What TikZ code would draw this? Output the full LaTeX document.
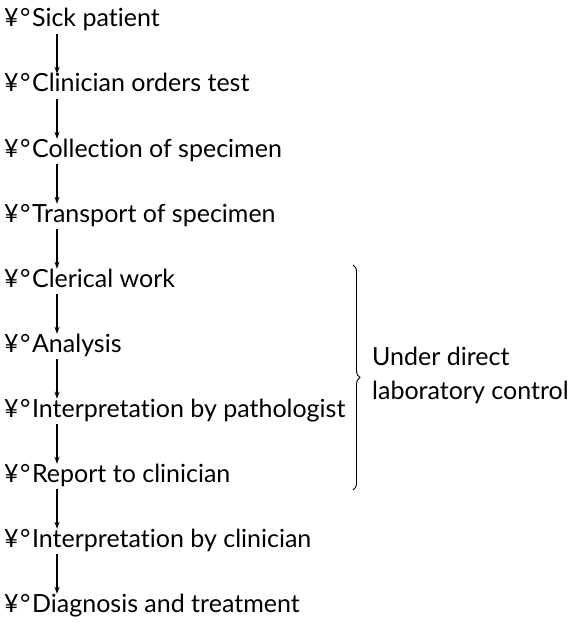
\documentclass[tikz,border=0pt]{standalone}
\usepackage{fontspec}
\setmainfont{Lato}[Ligatures={NoCommon,NoRare,NoDiscretionary,NoContextual}]
\usetikzlibrary{decorations.pathreplacing,arrows.meta}
\newcommand{\yd}{¥\kern1.5pt°\kern1.5pt}
\begin{document}
\begin{tikzpicture}[x=1pt,y=1pt,
  item/.style={anchor=base west, inner sep=0pt, text height=18pt, text depth=7pt, font=\fontsize{25}{30}\selectfont},
  conn/.style={-{Stealth[length=7pt,width=5pt]}, line width=1.3pt},
  lbl/.style={anchor=west, align=left, inner sep=0pt, font=\fontsize{25}{34}\selectfont}]
\useasboundingbox (0,0) rectangle (577,-623);
\node[item] (n0) at (4,-27) {\yd Sick patient};
\node[item] (n1) at (4,-92) {\yd Clinician orders test};
\node[item] (n2) at (4,-157) {\yd Collection of specimen};
\node[item] (n3) at (4,-222) {\yd Transport of specimen};
\node[item] (n4) at (4,-287) {\yd Clerical work};
\node[item] (n5) at (4,-352) {\yd Analysis};
\node[item] (n6) at (4,-417) {\yd Interpretation by pathologist};
\node[item] (n7) at (4,-482) {\yd Report to clinician};
\node[item] (n8) at (4,-547) {\yd Interpretation by clinician};
\node[item] (n9) at (4,-612) {\yd Diagnosis and treatment};
\foreach \a/\b in {n0/n1,n1/n2,n2/n3,n3/n4,n4/n5,n5/n6,n6/n7,n7/n8,n8/n9}
  \draw[conn] ([xshift=53pt]\a.south west) -- ([xshift=53pt]\b.north west);
\coordinate (btop) at (353,-265);
\coordinate (bbot) at (353,-490);
\draw[line width=0.9pt, decorate, decoration={brace, amplitude=7pt}] (btop) -- (bbot);
\node[lbl] (lab) at (372,-375) {Under direct\\laboratory control};
\end{tikzpicture}
\end{document}
